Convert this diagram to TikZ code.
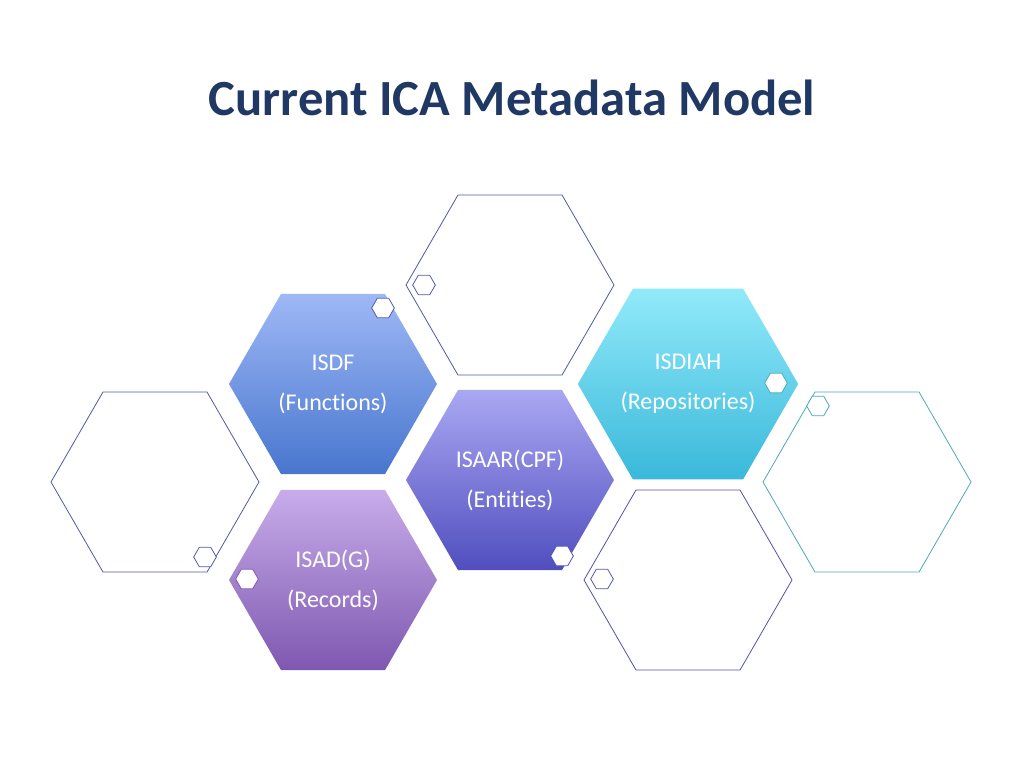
\documentclass[tikz,border=0pt]{standalone}
\usepackage{fontspec}
\setmainfont[RawFeature=-liga]{Carlito}
\usetikzlibrary{shapes.geometric}
\definecolor{titleblue}{RGB}{31,56,100}
\definecolor{outlineblue}{RGB}{80,90,165}
\definecolor{outlineteal}{RGB}{75,170,185}
\tikzset{
  bighex/.style={regular polygon,regular polygon sides=6,minimum size=156pt,inner sep=0pt,align=center,text=white,font=\fontsize{18}{30}\selectfont},
  emptyhex/.style={bighex,draw=outlineblue,line width=0.6pt,fill=white},
  smallhex/.style={regular polygon,regular polygon sides=6,minimum size=17pt,inner sep=0pt,draw=outlineblue,line width=0.6pt,fill=white},
}
\begin{document}
\begin{tikzpicture}[x=0.75pt,y=0.75pt,yscale=-1,xscale=1]
	\useasboundingbox (0,0) rectangle (1024,768);
	\draw (512,98) node [font=\fontsize{38}{44}\selectfont\bfseries,text=titleblue] (title) {Current ICA Metadata Model};
	% empty hexagons
	\draw (510,285) node [emptyhex] (hextop) {};
	\draw (155,482) node [emptyhex] (hexleft) {};
	\draw (867,482) node [emptyhex,draw=outlineteal] (hexright) {};
	\draw (688,580) node [emptyhex,draw={rgb,255:red,85;green,80;blue,170}] (hexbottom) {};
	% filled hexagons
	\draw (333,384) node [bighex,top color={rgb,255:red,158;green,184;blue,246},bottom color={rgb,255:red,72;green,118;blue,206}] (isdf) {ISDF\\(Functions)};
	\draw (688,384) node [bighex,top color={rgb,255:red,145;green,234;blue,250},bottom color={rgb,255:red,58;green,184;blue,218}] (isdiah) {ISDIAH\\(Repositories)};
	\draw (333,580) node [bighex,top color={rgb,255:red,200;green,172;blue,234},bottom color={rgb,255:red,126;green,88;blue,176}] (isad) {ISAD(G)\\(Records)};
	\draw (510,480) node [bighex,top color={rgb,255:red,170;green,168;blue,242},bottom color={rgb,255:red,80;green,78;blue,190}] (isaar) {ISAAR(CPF)\\(Entities)};
	% small hexagons
	\draw (383,308) node [smallhex] (s1) {};
	\draw (424,285) node [smallhex] (s2) {};
	\draw (776,383) node [smallhex,draw=outlineteal] (s3) {};
	\draw (818,406) node [smallhex,draw=outlineteal] (s4) {};
	\draw (205,557) node [smallhex] (s5) {};
	\draw (247,579) node [smallhex,draw={rgb,255:red,126;green,88;blue,176}] (s6) {};
	\draw (562,556) node [smallhex,draw={rgb,255:red,80;green,78;blue,190}] (s7) {};
	\draw (602,579) node [smallhex] (s8) {};
\end{tikzpicture}
\end{document}
